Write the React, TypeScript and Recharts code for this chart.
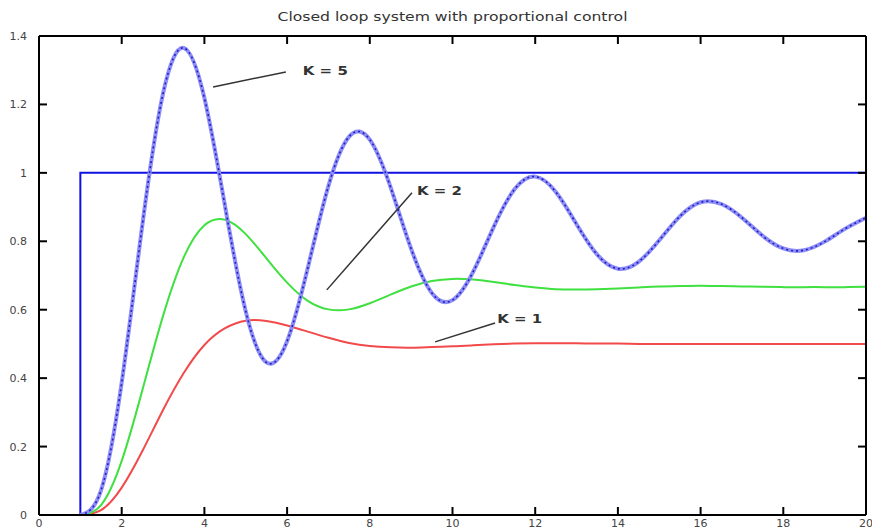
import React from 'react';
import { LineChart, Line, XAxis, YAxis, ReferenceLine, ReferenceDot } from 'recharts';

const title = 'Closed loop system with proportional control';

const time = [1, 1.5, 2, 2.5, 3, 3.5, 4, 4.5, 5, 5.5, 6, 6.5, 7, 7.5, 8, 8.5, 9, 9.5, 10, 10.5, 11, 11.5, 12, 12.5, 13, 13.5, 14, 14.5, 15, 15.5, 16, 16.5, 17, 17.5, 18, 18.5, 19, 19.5, 20];

const k5 = [0, 0.072, 0.387, 0.848, 1.232, 1.365, 1.219, 0.902, 0.595, 0.446, 0.508, 0.722, 0.962, 1.106, 1.097, 0.959, 0.778, 0.649, 0.628, 0.711, 0.843, 0.952, 0.989, 0.944, 0.85, 0.761, 0.72, 0.74, 0.803, 0.873, 0.914, 0.909, 0.869, 0.816, 0.779, 0.774, 0.799, 0.837, 0.869];
const k2 = [0, 0.029, 0.158, 0.365, 0.582, 0.753, 0.847, 0.863, 0.821, 0.75, 0.679, 0.626, 0.601, 0.601, 0.619, 0.644, 0.668, 0.684, 0.69, 0.688, 0.681, 0.672, 0.665, 0.66, 0.659, 0.66, 0.662, 0.665, 0.668, 0.669, 0.67, 0.669, 0.668, 0.667, 0.666, 0.666, 0.666, 0.666, 0.667];
const k1 = [0, 0.014, 0.08, 0.187, 0.307, 0.415, 0.497, 0.546, 0.568, 0.567, 0.554, 0.536, 0.518, 0.503, 0.494, 0.49, 0.489, 0.491, 0.493, 0.496, 0.499, 0.501, 0.502, 0.502, 0.502, 0.501, 0.501, 0.5, 0.5, 0.5, 0.5, 0.5, 0.5, 0.5, 0.5, 0.5, 0.5, 0.5, 0.5];

const stepT = [0, 1, 1, 20];
const stepV = [0, 0, 1, 1];

const xTicks = [0, 2, 4, 6, 8, 10, 12, 14, 16, 18, 20];
const yTicks = [0, 0.2, 0.4, 0.6, 0.8, 1, 1.2, 1.4];

const annoLabels = ['K = 5', 'K = 2', 'K = 1'];
const annoLines = [
  [4.21, 1.251, 5.97, 1.295],
  [6.96, 0.658, 9.02, 0.942],
  [9.58, 0.506, 11.03, 0.561],
];
const annoText = [
  [6.38, 1.3],
  [9.14, 0.95],
  [11.08, 0.576],
];

const rows = time.map((t, i) => ({ t, k1: k1[i], k2: k2[i], k5: k5[i] }));
const stepRows = stepT.map((t, i) => ({ t, v: stepV[i] }));

const FONT = '"DejaVu Sans", "Liberation Sans", sans-serif';
const TICK_LEN = 8;
const X_MARGIN = 4;
const Y_MARGIN = 12;

const YTick = (props: any) => {
  const { x, y, payload } = props;
  const ax = x + Y_MARGIN;
  return (
    <g>
      <line x1={ax} x2={ax + TICK_LEN} y1={y} y2={y} stroke="#000" strokeWidth={2} />
      <text x={x} y={y} dy={4} textAnchor="end" fontSize={11} fontFamily={FONT} fill="#444">
        {String(payload.value)}
      </text>
    </g>
  );
};

const XTick = (props: any) => {
  const { x, y, payload } = props;
  const ay = y - X_MARGIN;
  return (
    <g>
      <line x1={x} x2={x} y1={ay} y2={ay - TICK_LEN} stroke="#000" strokeWidth={2} />
      <text x={x} y={y} dy={8} textAnchor="middle" fontSize={11} fontFamily={FONT} fill="#444">
        {String(payload.value)}
      </text>
    </g>
  );
};

const TopTick = (props: any) => {
  const { x, y } = props;
  return <line x1={x} x2={x} y1={y} y2={y + TICK_LEN} stroke="#000" strokeWidth={2} />;
};

const RightTick = (props: any) => {
  const { x, y } = props;
  return <line x1={x} x2={x - TICK_LEN} y1={y} y2={y} stroke="#000" strokeWidth={2} />;
};

const makeLabelShape = (label: string) => (props: any) => {
  const { cx, cy } = props;
  return (
    <text
      x={cx}
      y={cy + 5}
      fontSize={13}
      fontWeight="bold"
      fontFamily={FONT}
      fill="#333"
      textLength={label.length * 9}
      lengthAdjust="spacingAndGlyphs"
    >
      {label}
    </text>
  );
};

export default function App() {
  return (
    <div style={{ position: 'absolute', left: 0, top: 0, width: 872, height: 530, background: '#fff' }}>
      <LineChart
        width={872}
        height={530}
        data={rows}
        margin={{ top: 35, right: 5, left: 9, bottom: 0 }}
      >
        <XAxis
          xAxisId="top"
          orientation="top"
          type="number"
          dataKey="t"
          domain={[0, 20]}
          ticks={xTicks}
          interval={0}
          height={1}
          tickSize={0}
          tickMargin={0}
          tickLine={false}
          tick={<TopTick />}
          stroke="#000"
          strokeWidth={2}
          allowDataOverflow
        />
        <XAxis
          type="number"
          dataKey="t"
          domain={[0, 20]}
          ticks={xTicks}
          interval={0}
          height={15}
          tickSize={0}
          tickMargin={X_MARGIN}
          tickLine={false}
          tick={<XTick />}
          stroke="#000"
          strokeWidth={2}
          allowDataOverflow
        />
        <YAxis
          type="number"
          domain={[0, 1.4]}
          ticks={yTicks}
          interval={0}
          width={30}
          tickSize={0}
          tickMargin={Y_MARGIN}
          tickLine={false}
          tick={<YTick />}
          stroke="#000"
          strokeWidth={2}
          allowDataOverflow
        />
        <YAxis
          yAxisId="right"
          orientation="right"
          type="number"
          domain={[0, 1.4]}
          ticks={yTicks}
          interval={0}
          width={1}
          tickSize={0}
          tickMargin={0}
          tickLine={false}
          tick={<RightTick />}
          stroke="#000"
          strokeWidth={2}
          allowDataOverflow
        />
        <Line
          data={stepRows}
          dataKey="v"
          type="linear"
          stroke="#1010e0"
          strokeWidth={2}
          dot={false}
          isAnimationActive={false}
        />
        <Line dataKey="k1" type="natural" stroke="#f24a4a" strokeWidth={2} dot={false} isAnimationActive={false} />
        <Line dataKey="k2" type="natural" stroke="#3fe03f" strokeWidth={2} dot={false} isAnimationActive={false} />
        <Line dataKey="k5" type="natural" stroke="#8d8df5" strokeWidth={4} dot={false} isAnimationActive={false} />
        <Line dataKey="k5" type="natural" stroke="#1f1fc8" strokeWidth={1.6} strokeDasharray="2 3" dot={false} isAnimationActive={false} />
        {annoLines.map((s, i) => (
          <ReferenceLine
            key={'l' + i}
            segment={[{ x: s[0], y: s[1] }, { x: s[2], y: s[3] }]}
            stroke="#333"
            strokeWidth={1.5}
            ifOverflow="visible"
          />
        ))}
        {annoText.map((p, i) => (
          <ReferenceDot
            key={'t' + i}
            x={p[0]}
            y={p[1]}
            r={0}
            ifOverflow="visible"
            shape={makeLabelShape(annoLabels[i])}
          />
        ))}
      </LineChart>
      <svg width={872} height={30} style={{ position: 'absolute', left: 0, top: 0 }}>
        <text
          x={452.5}
          y={21}
          textAnchor="middle"
          fontSize={12}
          fontFamily={FONT}
          fill="#333"
          textLength={350}
          lengthAdjust="spacingAndGlyphs"
        >
          {title}
        </text>
      </svg>
    </div>
  );
}
